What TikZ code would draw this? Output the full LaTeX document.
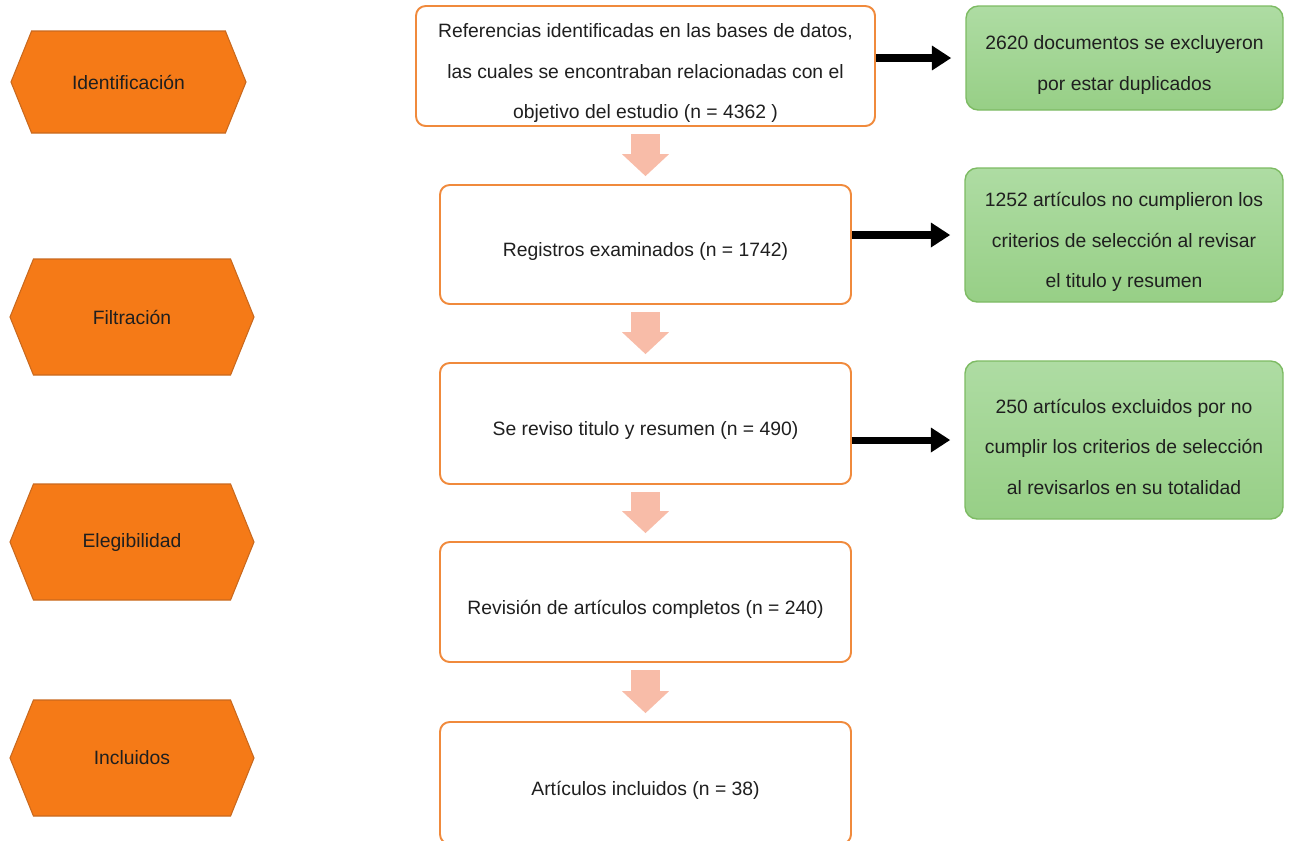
\documentclass[tikz,border=0pt]{standalone}
\usepackage{fontspec}
\setmainfont{Liberation Sans}
\usetikzlibrary{shapes.symbols,arrows.meta}
\definecolor{fase}{HTML}{F57A17}
\definecolor{faseborde}{HTML}{C9691E}
\definecolor{cajaborde}{HTML}{F08A3C}
\definecolor{verdeborde}{HTML}{7DBB63}
\definecolor{verdearriba}{HTML}{AEDCA3}
\definecolor{verdeabajo}{HTML}{97CF86}
\definecolor{rosa}{HTML}{F8BCA8}
\def\pxu{0.02cm}
\newcommand\arriba{\rule{0pt}{16pt}}
\begin{document}
\begin{tikzpicture}[x=\pxu, y=-\pxu,
    every node/.style={font=\fontsize{11}{23.2}\selectfont, text=black!88, align=center, inner sep=0pt},
    fase/.style={signal, signal to=west and east, signal pointer angle=136,
      draw=faseborde, fill=fase, line width=0.6pt},
    caja/.style={draw=cajaborde, fill=white, rounded corners=5.5pt, line width=1.1pt},
    excl/.style={draw=verdeborde, top color=verdearriba, bottom color=verdeabajo,
      rounded corners=7pt, line width=0.8pt},
    flecha/.style={line width=4pt, -{Triangle[length=11pt, width=13.4pt]}, shorten >=8pt},
    paso/.style={draw=rosa, line width=16.4pt, -{Triangle[length=12.5pt, width=26pt]},
      shorten <=4pt, shorten >=4.5pt}]
  \useasboundingbox (0,0) rectangle (1290,840);

  % fases
  \node[fase, minimum width=235*\pxu, minimum height=102*\pxu] (ident) at (128.5,82) {Identificación};
  \node[fase, minimum width=244*\pxu, minimum height=116*\pxu] (filt) at (132,317) {Filtración};
  \node[fase, minimum width=244*\pxu, minimum height=116*\pxu] (eleg) at (132,542) {Elegibilidad};
  \node[fase, minimum width=244*\pxu, minimum height=116*\pxu] (incl) at (132,758) {Incluidos};

  % flujo central
  \node[caja, minimum width=459*\pxu, minimum height=120*\pxu] (ref) at (645.5,66)
    {\arriba Referencias identificadas en las bases de datos,\\ las cuales se encontraban relacionadas con el\\ objetivo del estudio (n = 4362 )};
  \node[caja, minimum width=411*\pxu, minimum height=119*\pxu] (reg) at (645.5,244.5) {\arriba Registros examinados (n = 1742)};
  \node[caja, minimum width=411*\pxu, minimum height=121*\pxu] (rev) at (645.5,423.5) {\arriba Se reviso titulo y resumen (n = 490)};
  \node[caja, minimum width=411*\pxu, minimum height=120*\pxu] (comp) at (645.5,602) {\arriba Revisión de artículos completos (n = 240)};
  \node[caja, minimum width=411*\pxu, minimum height=122*\pxu] (fin) at (645.5,783) {\arriba Artículos incluidos (n = 38)};

  % exclusiones
  \node[excl, minimum width=317*\pxu, minimum height=104*\pxu] (dup) at (1124.5,58)
    {\arriba 2620 documentos se excluyeron\\ por estar duplicados};
  \node[excl, minimum width=318*\pxu, minimum height=134*\pxu] (crit) at (1124,235)
    {\arriba 1252 artículos no cumplieron los\\ criterios de selección al revisar\\ el titulo y resumen};
  \node[excl, minimum width=318*\pxu, minimum height=158*\pxu] (tot) at (1124,440)
    {\arriba 250 artículos excluidos por no\\ cumplir los criterios de selección\\ al revisarlos en su totalidad};

  \draw[paso] (ref) -- (reg);
  \draw[paso] (reg) -- (rev);
  \draw[paso] (rev) -- (comp);
  \draw[paso] (comp) -- (fin);

  \draw[flecha] (ref.east |- dup.west) -- (dup.west);
  \draw[flecha] (reg.east |- crit.west) -- (crit.west);
  \draw[flecha] (rev.east |- tot.west) -- (tot.west);
\end{tikzpicture}
\end{document}
